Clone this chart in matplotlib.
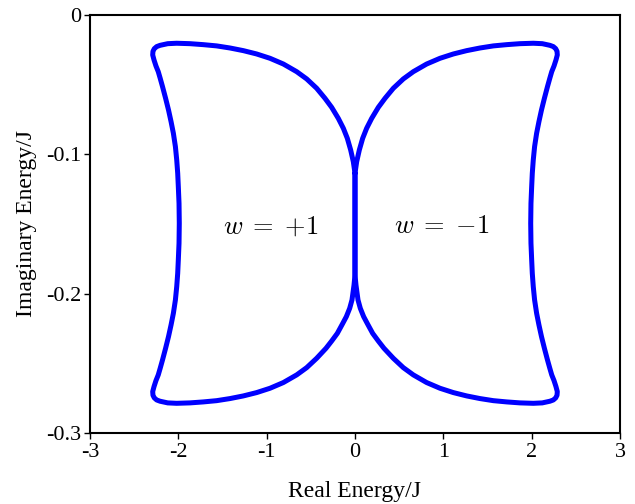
import matplotlib
matplotlib.use("Agg")
import matplotlib.pyplot as plt

# left loop (winding +1), going round once:
# inner top arc -> top-left corner -> outer side -> bottom-left corner -> inner bottom arc
left_re = [0.000, -0.019, -0.049, -0.087, -0.132, -0.189, -0.264, -0.340,
           -0.434, -0.547, -0.660, -0.811, -0.962, -1.113, -1.264, -1.415,
           -1.566, -1.717, -1.868, -2.019, -2.120, -2.207, -2.245, -2.272,
           -2.287, -2.290, -2.275, -2.253, -2.227, -2.205, -2.179, -2.144,
           -2.111, -2.082, -2.056, -2.033, -2.018, -2.007, -2.000, -1.992,
           -1.989, -1.992, -2.000, -2.007, -2.018, -2.033, -2.056, -2.082,
           -2.111, -2.144, -2.179, -2.205, -2.227, -2.253, -2.275, -2.290,
           -2.287, -2.272, -2.245, -2.207, -2.120, -2.019, -1.868, -1.717,
           -1.566, -1.415, -1.264, -1.113, -0.962, -0.811, -0.660, -0.547,
           -0.434, -0.328, -0.264, -0.200, -0.140, -0.098, -0.060, -0.034,
           -0.011, 0.000, 0.000]
left_im = [-0.1136, -0.1053, -0.0969, -0.0885, -0.0813, -0.0742, -0.0663, -0.0598,
           -0.0526, -0.0459, -0.0407, -0.0352, -0.0311, -0.0280, -0.0256, -0.0237,
           -0.0222, -0.0213, -0.0206, -0.0203, -0.0206, -0.0218, -0.0227, -0.0242,
           -0.0261, -0.0287, -0.0323, -0.0366, -0.0407, -0.0455, -0.0514, -0.0598,
           -0.0682, -0.0766, -0.0849, -0.0945, -0.1041, -0.1136, -0.1232, -0.1352,
           -0.1495, -0.1638, -0.1758, -0.1854, -0.1949, -0.2045, -0.2141, -0.2224,
           -0.2308, -0.2392, -0.2476, -0.2535, -0.2583, -0.2624, -0.2667, -0.2703,
           -0.2729, -0.2748, -0.2763, -0.2772, -0.2784, -0.2787, -0.2784, -0.2777,
           -0.2768, -0.2753, -0.2734, -0.2710, -0.2679, -0.2638, -0.2583, -0.2531,
           -0.2464, -0.2392, -0.2340, -0.2285, -0.2215, -0.2165, -0.2105, -0.2045,
           -0.1938, -0.1866, -0.1136]

# right loop (winding -1), the mirror image in the picture
right_re = [0.000, 0.019, 0.049, 0.087, 0.132, 0.189, 0.264, 0.340,
            0.434, 0.547, 0.660, 0.811, 0.962, 1.113, 1.264, 1.415,
            1.566, 1.717, 1.868, 2.019, 2.120, 2.207, 2.245, 2.272,
            2.287, 2.290, 2.275, 2.253, 2.227, 2.205, 2.179, 2.144,
            2.111, 2.082, 2.056, 2.033, 2.018, 2.007, 2.000, 1.992,
            1.989, 1.992, 2.000, 2.007, 2.018, 2.033, 2.056, 2.082,
            2.111, 2.144, 2.179, 2.205, 2.227, 2.253, 2.275, 2.290,
            2.287, 2.272, 2.245, 2.207, 2.120, 2.019, 1.868, 1.717,
            1.566, 1.415, 1.264, 1.113, 0.962, 0.811, 0.660, 0.547,
            0.434, 0.328, 0.264, 0.200, 0.140, 0.098, 0.060, 0.034,
            0.011, 0.000, 0.000]
right_im = [-0.1136, -0.1053, -0.0969, -0.0885, -0.0813, -0.0742, -0.0663, -0.0598,
            -0.0526, -0.0459, -0.0407, -0.0352, -0.0311, -0.0280, -0.0256, -0.0237,
            -0.0222, -0.0213, -0.0206, -0.0203, -0.0206, -0.0218, -0.0227, -0.0242,
            -0.0261, -0.0287, -0.0323, -0.0366, -0.0407, -0.0455, -0.0514, -0.0598,
            -0.0682, -0.0766, -0.0849, -0.0945, -0.1041, -0.1136, -0.1232, -0.1352,
            -0.1495, -0.1638, -0.1758, -0.1854, -0.1949, -0.2045, -0.2141, -0.2224,
            -0.2308, -0.2392, -0.2476, -0.2535, -0.2583, -0.2624, -0.2667, -0.2703,
            -0.2729, -0.2748, -0.2763, -0.2772, -0.2784, -0.2787, -0.2784, -0.2777,
            -0.2768, -0.2753, -0.2734, -0.2710, -0.2679, -0.2638, -0.2583, -0.2531,
            -0.2464, -0.2392, -0.2340, -0.2285, -0.2215, -0.2165, -0.2105, -0.2045,
            -0.1938, -0.1866, -0.1136]

x_ticks = [-3, -2, -1, 0, 1, 2, 3]
x_labels = ["-3", "-2", "-1", "0", "1", "2", "3"]
y_ticks = [0, -0.1, -0.2, -0.3]
y_labels = ["0", "-0.1", "-0.2", "-0.3"]

plt.rcParams["font.family"] = ["Liberation Serif", "DejaVu Serif"]
plt.rcParams["mathtext.fontset"] = "cm"
plt.rcParams["axes.unicode_minus"] = False

fig = plt.figure(figsize=(6.35, 5.04), dpi=100)
ax = fig.add_axes([0.1417, 0.1409, 0.8347, 0.8294])

ax.plot(left_re, left_im, color="#0000ff", linewidth=3.6,
        solid_joinstyle="round", solid_capstyle="round")
ax.plot(right_re, right_im, color="#0000ff", linewidth=3.6,
        solid_joinstyle="round", solid_capstyle="round")

ax.text(-0.955, -0.152, r"$w\;=\;{+}1$", fontsize=19, ha="center", va="center")
ax.text(0.985, -0.152, r"$w\;=\;{-}1$", fontsize=19, ha="center", va="center")

ax.set_xlim(-3, 3)
ax.set_ylim(-0.3, 0)
ax.set_xticks(x_ticks)
ax.set_xticklabels(x_labels)
ax.set_yticks(y_ticks)
ax.set_yticklabels(y_labels)
ax.tick_params(direction="out", length=4, width=1, labelsize=16)
ax.tick_params(axis="x", pad=3)
ax.tick_params(axis="y", pad=2)

for side in ax.spines.values():
    side.set_linewidth(1.5)

ax.set_xlabel("Real Energy/J", fontsize=17, labelpad=14)
ax.set_ylabel("Imaginary Energy/J", fontsize=17, labelpad=7)

fig.savefig("out.png", dpi=100)
